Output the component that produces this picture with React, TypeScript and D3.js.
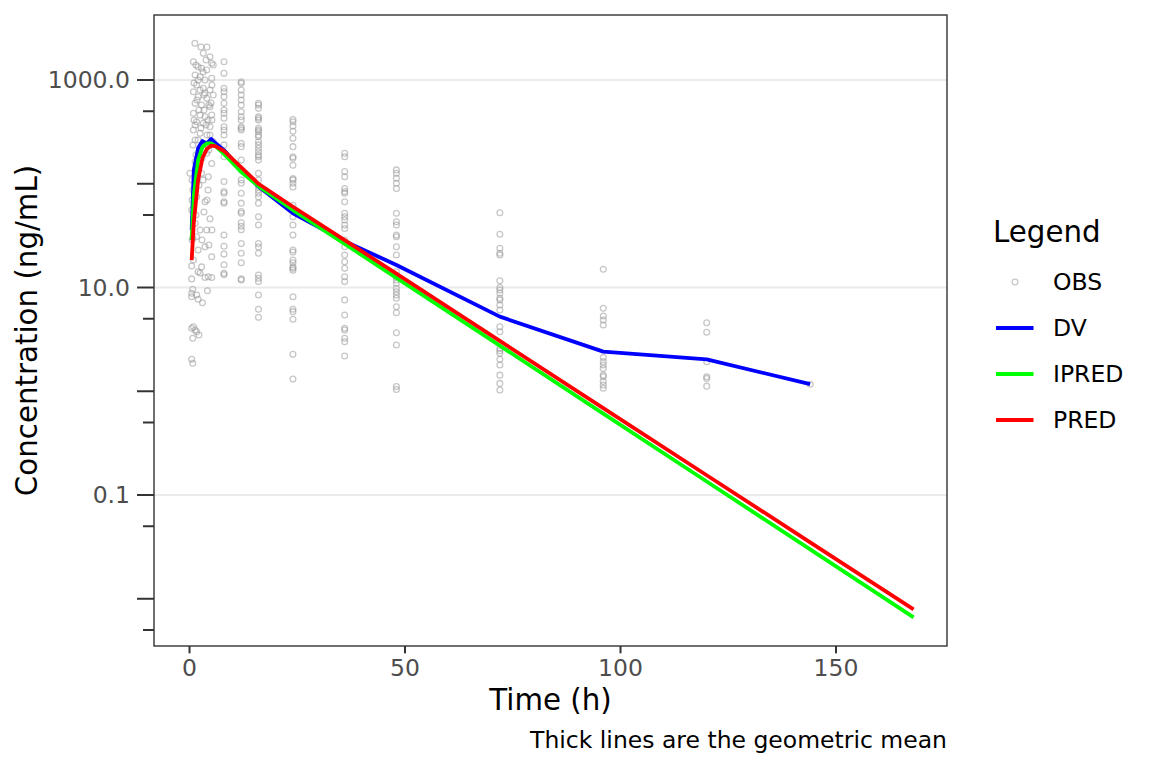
import React from "react";
import * as d3 from "d3";

// ---------- data ----------
const nominalTimes = [0.5, 1, 2, 3, 4, 5, 6, 8, 12, 16, 24, 36, 48, 72, 96, 120, 144, 168];
const dvMean = [35.8, 136, 221, 258, 245, 270, 247, 211, 136, 94, 52, 28, 16.5, 5.24, 2.41, 2.03, 1.17];
const ipredMean = [28.7, 77.6, 169, 226, 245, 245, 231, 194, 130, 95, 55.8, 26.3, 12.4, 2.75, 0.609, 0.135, 0.0299, 0.00662];
const predMean = [18.4, 42.7, 109, 177, 216, 233, 231, 207, 144, 100, 60, 28.6, 13.6, 3.06, 0.689, 0.155, 0.035, 0.0079];

// early observations [time (h), conc (ng/mL)]
const obsEarly: [number, number][] = [
  [1.25, 2260], [3.2, 1808], [4.75, 1677], [5.15, 1449], [0.9, 1501], [2.0, 1343], [2.8, 1297], [4.0, 1248],
  [5.5, 1395], [1.3, 1117], [2.45, 1076], [3.6, 1000], [5.15, 1038], [1.65, 895], [3.2, 832], [4.75, 801],
  [0.9, 771], [2.0, 690], [4.0, 666], [5.5, 717], [1.3, 596], [2.8, 574], [4.75, 553], [0.9, 478],
  [2.45, 460], [3.6, 443], [5.15, 460], [1.65, 396], [3.2, 383], [4.75, 355], [0.9, 330], [2.45, 306],
  [1.3, 264], [4.75, 295], [5.5, 254], [2.45, 211], [4.0, 197], [1.3, 163], [5.15, 157], [2.8, 126],
  [4.35, 117], [0.1, 126], [1.65, 75], [3.6, 67], [4.75, 46], [4.0, 35.8], [0.5, 55.8], [1.3, 41.6],
  [2.45, 35.8], [5.15, 19.8], [3.6, 24.7], [1.65, 30.9], [0.9, 18.4], [2.8, 15.8], [4.35, 12.7], [0.5, 16.1],
  [2.0, 14.2], [2.45, 13.8], [0.5, 12.1], [3.6, 12.5], [5.15, 12.5], [0.75, 9.6], [0.5, 8.8], [0.5, 8.15],
  [1.65, 8.47], [2.0, 7.7], [3.0, 7.13], [4.15, 9.3], [0.5, 4.05], [0.9, 4.19], [1.3, 3.89], [1.65, 3.75],
  [0.75, 3.24], [2.2, 3.48], [0.5, 2.03], [0.75, 1.86],
  [1.75, 641], [3.35, 514], [4.3, 411], [0.8, 236], [2.0, 264], [3.15, 236], [4.05, 295], [5.2, 411],
  [1.5, 189], [2.9, 177], [4.5, 211], [1.05, 411], [2.2, 514], [3.35, 717], [4.5, 574], [5.2, 895],
  [1.5, 1395], [3.85, 1559], [2.65, 2080], [4.05, 2080], [2.0, 1000], [3.15, 1194], [1.05, 936], [2.45, 801],
  [3.6, 750], [5.0, 600], [1.3, 368], [2.65, 344], [3.85, 368], [4.75, 236], [1.75, 136], [3.15, 109],
  [4.3, 87], [0.8, 87], [2.2, 97], [3.35, 53.5], [2.0, 23], [2.9, 28.7], [4.5, 25.7], [0.8, 30],
  [5.2, 35.8], [1.5, 50], [4.05, 69.7], [0.6, 69.7], [0.6, 108.7], [0.6, 28.7],
];

const obs8h = [1500, 1160, 832, 771, 690, 596, 514, 478, 427, 354, 330, 295, 237, 182, 105, 84, 81, 67, 65, 32, 25, 21, 16.6, 13.7, 13.3];
const obs12h = [963, 929, 801, 717, 641, 574, 495, 443, 411, 355, 342, 330, 245, 228, 169, 136, 109, 101, 81, 65, 54, 52, 42, 39, 36, 26.5, 21.4, 17.3, 12.1, 11.8];
const obs16h = [596, 574, 533, 443, 427, 411, 342, 330, 318, 295, 284, 254, 237, 220, 203, 189, 182, 169, 126, 109, 94, 87, 81, 75, 65, 48, 40, 26.5, 24.6, 21.4, 13.2, 12.3, 11.4, 8.47, 6.17, 5.16];
const obs24h = [416, 396, 360, 320, 274, 228, 182, 176, 151, 112, 109, 101, 93, 62, 48, 40, 32, 23, 22, 18.4, 15.3, 17.3, 15.8, 14.7, 8.15, 6.17, 5.85, 4.94, 2.27, 1.31];
const obs36h = [197, 182, 131, 117, 90, 84, 81, 67, 52, 48, 44.7, 40, 37, 28.7, 24.7, 20.6, 17.7, 15.3, 12.7, 11.4, 7.6, 5.43, 4.05, 3.89, 3.24, 3.0, 2.19];
const obs48h = [136, 126, 113, 101, 90, 52, 43, 40, 32, 30.9, 24.7, 20.6, 14.2, 12.7, 11.8, 11.0, 9.8, 9.1, 8.47, 7.87, 6.53, 5.71, 3.67, 2.79, 1.11, 1.04];
const obs72h = [52.6, 32.6, 23.9, 21.4, 20.6, 11.6, 10.0, 9.46, 8.79, 7.87, 7.58, 6.78, 6.07, 4.19, 3.75, 2.59, 2.46, 2.32, 2.03, 1.79, 1.43, 1.19, 1.03];
const obs96h = [15.0, 6.31, 5.31, 4.86, 4.35, 2.12, 1.93, 1.79, 1.66, 1.43, 1.38, 1.24, 1.15, 1.07];
const obs120h = [4.58, 3.7, 1.93, 1.38, 1.33, 1.12];
const obs144h = [1.17];

const obsColumns: [number, number[]][] = [
  [8, obs8h], [12, obs12h], [16, obs16h], [24, obs24h], [36, obs36h],
  [48, obs48h], [72, obs72h], [96, obs96h], [120, obs120h], [144, obs144h],
];

const xTicks = [0, 50, 100, 150];
const yLabelTicks = [1000, 10, 0.1];
const yMajorTicks = [1000, 100, 10, 1, 0.1, 0.01];
const yMinorTicks = [500, 50, 5, 0.5, 0.05, 0.005];

const legendItems = ["OBS", "DV", "IPRED", "PRED"];
const lineColors: Record<string, string> = { DV: "#0000FF", IPRED: "#00FF00", PRED: "#FF0000" };

// ---------- layout ----------
const W = 1152;
const H = 768;
const P = { left: 154, right: 947, top: 15, bottom: 646 };
const FONT = "DejaVu Sans, sans-serif";

export default function App() {
  const x = d3.scaleLinear().domain([-8.24, 175.75]).range([P.left, P.right]);
  const y = d3.scaleLog().domain([0.003505, 4233]).range([P.bottom, P.top]);

  const line = d3
    .line<[number, number]>()
    .x((d) => x(d[0]))
    .y((d) => y(d[1]));

  const series = [
    { name: "DV", values: dvMean },
    { name: "IPRED", values: ipredMean },
    { name: "PRED", values: predMean },
  ];

  const obsAll: [number, number][] = [
    ...obsEarly,
    ...obsColumns.flatMap(([t, vals]) => vals.map((v) => [t, v] as [number, number])),
  ];

  const legendY = [282, 328, 374, 420];

  return (
    <svg
      width={W}
      height={H}
      style={{ position: "absolute", left: 0, top: 0, background: "#fff" }}
      fontFamily={FONT}
    >
      <rect x={0} y={0} width={W} height={H} fill="#fff" />
      {/* gridlines */}
      {yLabelTicks.map((t) => (
        <line key={"g" + t} x1={P.left} x2={P.right} y1={y(t)} y2={y(t)} stroke="#ebebeb" strokeWidth={2} />
      ))}
      {/* observations */}
      <g>
        {obsAll.map((d, i) => (
          <circle
            key={i}
            cx={x(d[0])}
            cy={y(d[1])}
            r={2.9}
            fill="none"
            stroke="#999"
            strokeOpacity={0.55}
            strokeWidth={1.3}
          />
        ))}
      </g>
      {/* mean lines */}
      {series.map((s) => (
        <path
          key={s.name}
          d={line(s.values.map((v, i) => [nominalTimes[i], v] as [number, number])) || ""}
          fill="none"
          stroke={lineColors[s.name]}
          strokeWidth={3.8}
          strokeLinejoin="round"
        />
      ))}
      {/* panel border */}
      <rect
        x={P.left}
        y={P.top}
        width={P.right - P.left}
        height={P.bottom - P.top}
        fill="none"
        stroke="#333"
        strokeWidth={1.4}
      />
      {/* y ticks */}
      {yMajorTicks.map((t) => (
        <line key={"ym" + t} x1={P.left - 17} x2={P.left} y1={y(t)} y2={y(t)} stroke="#333" strokeWidth={2} />
      ))}
      {yMinorTicks.map((t) => (
        <line key={"yn" + t} x1={P.left - 11} x2={P.left} y1={y(t)} y2={y(t)} stroke="#333" strokeWidth={2} />
      ))}
      {yLabelTicks.map((t) => (
        <text
          key={"yl" + t}
          x={130}
          y={y(t)}
          dy="0.36em"
          textAnchor="end"
          fontSize={23.5}
          fill="#4d4d4d"
        >
          {d3.format(".1f")(t)}
        </text>
      ))}
      {/* x ticks */}
      {xTicks.map((t) => (
        <g key={"x" + t}>
          <line x1={x(t)} x2={x(t)} y1={P.bottom} y2={P.bottom + 7.3} stroke="#333" strokeWidth={2} />
          <text x={x(t)} y={P.bottom + 30} textAnchor="middle" fontSize={23.5} fill="#4d4d4d">
            {t}
          </text>
        </g>
      ))}
      {/* axis titles */}
      <text x={(P.left + P.right) / 2} y={710} textAnchor="middle" fontSize={29.3} fill="#000">
        Time (h)
      </text>
      <text
        transform={`translate(37, ${(P.top + P.bottom) / 2}) rotate(-90)`}
        textAnchor="middle"
        fontSize={29.3}
        fill="#000"
      >
        Concentration (ng/mL)
      </text>
      <text x={P.right} y={748} textAnchor="end" fontSize={23.5} fill="#000">
        Thick lines are the geometric mean
      </text>
      {/* legend */}
      <text x={993} y={242} fontSize={29.3} fill="#000">
        Legend
      </text>
      {legendItems.map((name, i) => (
        <g key={name}>
          {name === "OBS" ? (
            <circle
              cx={1015}
              cy={legendY[i]}
              r={2.9}
              fill="none"
              stroke="#999"
              strokeOpacity={0.55}
              strokeWidth={1.3}
            />
          ) : (
            <line
              x1={996}
              x2={1033.5}
              y1={legendY[i]}
              y2={legendY[i]}
              stroke={lineColors[name]}
              strokeWidth={3.8}
            />
          )}
          <text x={1053} y={legendY[i]} dy="0.36em" fontSize={23.5} fill="#000">
            {name}
          </text>
        </g>
      ))}
    </svg>
  );
}
